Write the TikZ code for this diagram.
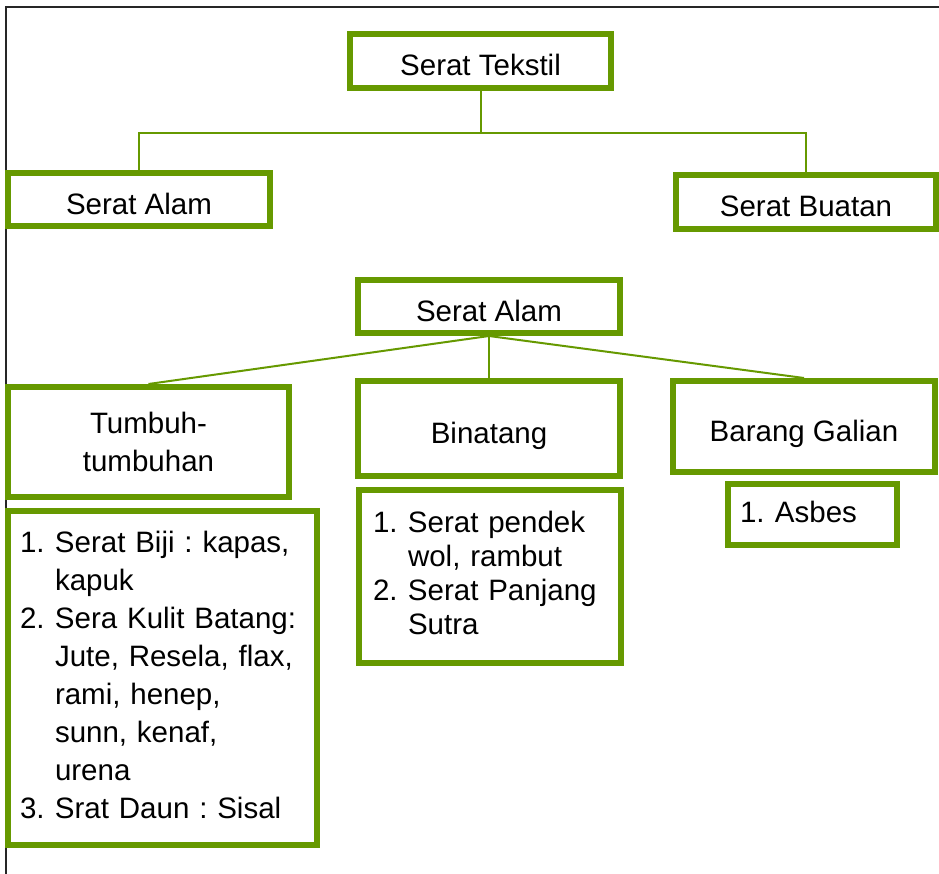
\documentclass[tikz,border=0pt]{standalone}
\usepackage{fontspec}
\setmainfont{Liberation Sans}
\usepackage{xcolor}
\usepackage{tikz}
\definecolor{serat}{RGB}{102,153,0}
\frenchspacing

\begin{document}
\begin{tikzpicture}[x=1pt, y=-1pt,
  main/.style = {draw=serat, line width=6pt, inner sep=0pt, font=\fontsize{29.5}{38}\selectfont},
  one/.style = {main, text height=30pt, text depth=0pt},
  list/.style = {main, align=left, inner xsep=12pt},
  link/.style = {serat, line width=2pt}]
\useasboundingbox (0,0) rectangle (939,874);
\draw[black!85, line width=1.2pt] (939,7) -- (6,7) -- (6,874);
\node[one, minimum width=261pt, minimum height=54pt] (1) at (480.5,61) {Serat Tekstil};
\node[one, minimum width=262pt, minimum height=53pt] (2) at (139,199.5) {Serat Alam};
\node[one, minimum width=260pt, minimum height=54pt] (3) [right of=2, node distance=667pt, yshift=-2.5pt] {Serat Buatan};
\node[one, minimum width=262pt, minimum height=53pt] (4) at (489,306.5) {Serat Alam};
\node[one, minimum width=262pt, minimum height=95pt] (6) [below of=4, node distance=122pt] {Binatang};
\node[main, minimum width=281pt, minimum height=110pt, align=center] (5) [left of=6, node distance=340.5pt, yshift=-13.5pt] {Tumbuh-\\tumbuhan};
\node[one, minimum width=262pt, minimum height=91pt] (7) [right of=6, node distance=315pt, yshift=2pt] {Barang Galian};
\node[list, text width=285pt, minimum height=334pt] (8) [below of=5, node distance=236pt, xshift=14pt] {\begin{tabular}{@{}p{35pt}@{}l@{}}
1. & Serat Biji : kapas,\\
   & kapuk\\
2. & Sera Kulit Batang:\\
   & Jute, Resela, flax,\\
   & rami, henep,\\
   & sunn, kenaf,\\
   & urena\\
3. & Srat Daun : Sisal
\end{tabular}};
\node[list, inner xsep=14pt, text width=234pt, minimum height=173pt, font=\fontsize{29.5}{34}\selectfont] (9) [below of=6, node distance=148pt, xshift=1pt] {\begin{tabular}{@{}p{35pt}@{}l@{}}
1. & Serat pendek\\
   & wol, rambut\\
2. & Serat Panjang\\
   & Sutra
\end{tabular}};
\node[list, text width=145pt, minimum height=61pt] (10) [below of=7, node distance=88pt, xshift=8.5pt] {\begin{tabular}{@{}p{35pt}@{}l@{}}
1. & Asbes
\end{tabular}};
\draw[link] (1.south) -- ++(0,42) -| (2.north);
\draw[link] (1.south) -- ++(0,42) -| (3.north);
\draw[link] (4.south) -- (5.north);
\draw[link] (4.south) -- (6.north);
\draw[link] (4.south) -- (7.north);
\end{tikzpicture}
\end{document}
